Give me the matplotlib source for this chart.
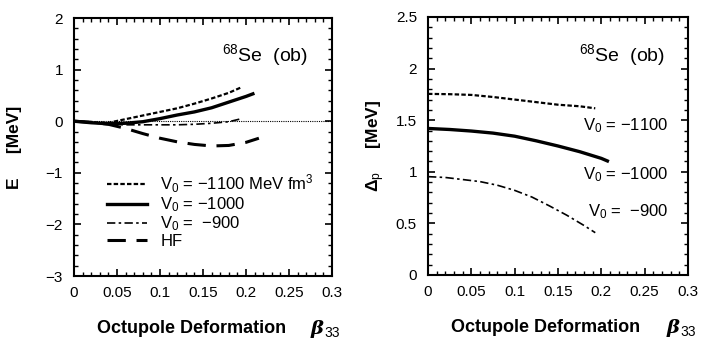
import matplotlib
matplotlib.use("Agg")
import matplotlib.pyplot as plt
from matplotlib.ticker import MultipleLocator

plt.rcParams['font.family'] = ['Liberation Sans', 'DejaVu Sans']
plt.rcParams['mathtext.fontset'] = 'custom'
plt.rcParams['mathtext.rm'] = 'Liberation Sans'
plt.rcParams['mathtext.it'] = 'DejaVu Serif:bold:italic'
plt.rcParams['mathtext.bf'] = 'Liberation Sans:bold'

# left panel: energy curves E(beta33)
beta_1100 = [0, 0.02, 0.04, 0.06, 0.08, 0.10, 0.12, 0.14, 0.16, 0.18, 0.195]
e_1100 = [0, -0.02, -0.03, 0.04, 0.11, 0.18, 0.25, 0.34, 0.44, 0.55, 0.66]
beta_1000 = [0, 0.02, 0.04, 0.06, 0.08, 0.10, 0.12, 0.14, 0.16, 0.18, 0.20, 0.208]
e_1000 = [0, -0.03, -0.05, -0.04, -0.01, 0.05, 0.12, 0.18, 0.26, 0.37, 0.48, 0.53]
beta_900 = [0, 0.02, 0.04, 0.06, 0.08, 0.10, 0.12, 0.14, 0.16, 0.18, 0.195]
e_900 = [0, -0.03, -0.06, -0.07, -0.07, -0.07, -0.07, -0.06, -0.04, -0.01, 0.05]
beta_hf = [0, 0.02, 0.04, 0.06, 0.08, 0.10, 0.12, 0.14, 0.16, 0.18, 0.20, 0.215]
e_hf = [0, -0.02, -0.06, -0.14, -0.24, -0.33, -0.40, -0.45, -0.48, -0.47, -0.41, -0.33]

# right panel: proton pairing gap
dbeta_1100 = [0, 0.025, 0.05, 0.075, 0.10, 0.125, 0.15, 0.175, 0.193]
gap_1100 = [1.755, 1.752, 1.745, 1.725, 1.70, 1.675, 1.65, 1.635, 1.615]
dbeta_1000 = [0, 0.025, 0.05, 0.075, 0.10, 0.125, 0.15, 0.175, 0.20, 0.207]
gap_1000 = [1.42, 1.41, 1.395, 1.375, 1.345, 1.30, 1.25, 1.195, 1.13, 1.105]
dbeta_900 = [0, 0.02, 0.04, 0.06, 0.08, 0.10, 0.12, 0.14, 0.16, 0.18, 0.193]
gap_900 = [0.953, 0.945, 0.925, 0.905, 0.87, 0.82, 0.755, 0.67, 0.58, 0.48, 0.41]

legend_labels = [r'V$_0$ = $-$1100 MeV fm$^3$', r'V$_0$ = $-$1000',
                 r'V$_0$ =  $-$900', 'HF']
gap_labels = [r'V$_0$ = $-$1100', r'V$_0$ = $-$1000', r'V$_0$ =  $-$900']

dot = (0, (2, 1))
dashdot = (0, (5, 2, 1.5, 2))
dash = (0, (6, 3.5))

fig = plt.figure(figsize=(7.08, 3.53), dpi=100)
ax1 = fig.add_axes([74 / 708, 77 / 353, 258 / 708, 258 / 353])
ax2 = fig.add_axes([428 / 708, 78 / 353, 260 / 708, 258 / 353])


def style_axes(ax):
    ax.tick_params(which='both', direction='in', top=True, right=True, labelsize=11)
    ax.tick_params(which='major', length=5, width=1.2)
    ax.tick_params(which='minor', length=3, width=1.0)
    for s in ax.spines.values():
        s.set_linewidth(1.5)
    ax.set_xlim(0, 0.3)
    ax.xaxis.set_minor_locator(MultipleLocator(0.01))
    ax.set_xticks([0, 0.05, 0.1, 0.15, 0.2, 0.25, 0.3])
    ax.set_xticklabels(['0', '0.05', '0.1', '0.15', '0.2', '0.25', '0.3'])
    ax.tick_params(axis='x', pad=7)
    ax.tick_params(axis='y', pad=8)
    # x label: text plus bold italic beta
    ax.text(0.09, -0.205, 'Octupole Deformation', transform=ax.transAxes,
            ha='left', va='center', fontsize=13, fontweight='bold')
    ax.text(0.915, -0.205, r'$\beta$', transform=ax.transAxes,
            ha='left', va='center', fontsize=14)
    ax.text(0.972, -0.22, '33', transform=ax.transAxes,
            ha='left', va='center', fontsize=10)


# left
ax1.axhline(0, color='black', lw=0.8, linestyle=(0, (1, 1)))
l1, = ax1.plot(beta_1100, e_1100, color='black', lw=1.6, linestyle=dot)
l2, = ax1.plot(beta_1000, e_1000, color='black', lw=2.4)
l3, = ax1.plot(beta_900, e_900, color='black', lw=1.2, linestyle=dashdot)
l4, = ax1.plot(beta_hf, e_hf, color='black', lw=2.2, linestyle=dash)
ax1.set_ylim(-3, 2)
ax1.yaxis.set_major_locator(MultipleLocator(1))
ax1.yaxis.set_minor_locator(MultipleLocator(0.2))
style_axes(ax1)
ax1.set_ylabel('E     [MeV]', fontweight='bold', fontsize=12.5)
ax1.yaxis.set_label_coords(-0.2, 0.5)
ax1.text(0.272, 1.28, r'$^{68}$Se  (ob)', ha='right', va='center', fontsize=14)
leg = ax1.legend([l1, l2, l3, l4], legend_labels, loc='upper left',
                 bbox_to_anchor=(0.128, 0.40), frameon=False, fontsize=12,
                 handlelength=2.4, labelspacing=0.02, handletextpad=0.8,
                 borderaxespad=0, borderpad=0)

# right
ax2.plot(dbeta_1100, gap_1100, color='black', lw=1.6, linestyle=dot)
ax2.plot(dbeta_1000, gap_1000, color='black', lw=2.4)
ax2.plot(dbeta_900, gap_900, color='black', lw=1.2, linestyle=dashdot)
ax2.set_ylim(0, 2.5)
ax2.yaxis.set_minor_locator(MultipleLocator(0.1))
style_axes(ax2)
ax2.set_yticks([0, 0.5, 1, 1.5, 2, 2.5])
ax2.set_yticklabels(['0', '0.5', '1', '1.5', '2', '2.5'])
ax2.set_ylabel(r'$\mathbf{\Delta}_{\rm p}$     [MeV]', fontweight='bold', fontsize=12.5)
ax2.yaxis.set_label_coords(-0.158, 0.5)
ax2.text(0.273, 2.13, r'$^{68}$Se  (ob)', ha='right', va='center', fontsize=14)
for lab, yv in zip(gap_labels, [1.45, 0.97, 0.61]):
    ax2.text(0.277, yv, lab, ha='right', va='center', fontsize=12)

fig.savefig('out.png', dpi=100)
